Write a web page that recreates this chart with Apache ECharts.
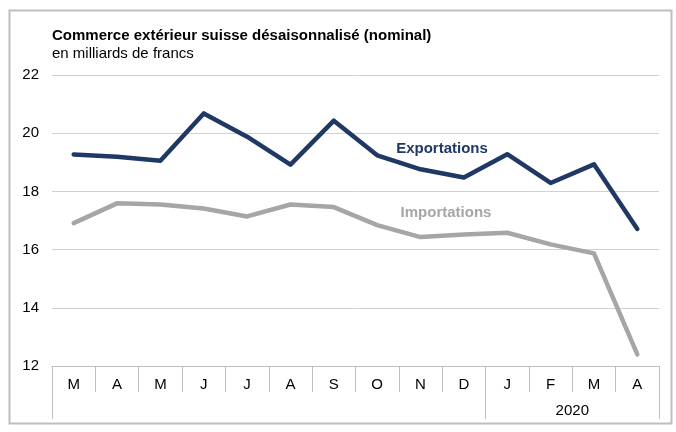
<!DOCTYPE html>
<html><head><meta charset="utf-8">
<script src="https://cdn.jsdelivr.net/npm/echarts@6/dist/echarts.min.js"></script>
<style>html,body{margin:0;padding:0;background:#fff}#c{width:676px;height:432px}</style>
</head><body><div id="c"></div>
<script>
const months = ['M','A','M','J','J','A','S','O','N','D','J','F','M','A'];
const exportations = [19.27,19.19,19.05,20.68,19.88,18.92,20.43,19.24,18.76,18.48,19.28,18.29,18.93,16.71];
const importations = [16.91,17.59,17.55,17.41,17.14,17.55,17.46,16.84,16.43,16.52,16.58,16.18,15.87,12.40];
const yearBoundaries = [0, 10, 14];
const yearLabelPos = [12];
const yearLabels = ['2020'];
const seriesNames = ['Exportations','Importations'];

const FONT = '"Liberation Sans", Arial, sans-serif';
const FS = 15;
const chart = echarts.init(document.getElementById('c'));
chart.setOption({
  animation: false,
  backgroundColor: '#fff',
  textStyle: { fontFamily: FONT },
  title: {
    text: 'Commerce extérieur suisse désaisonnalisé (nominal)',
    subtext: 'en milliards de francs',
    left: 52, top: 27, padding: 0, itemGap: 1,
    textStyle: { fontSize: FS, fontWeight: 'bold', color: '#000', lineHeight: 17, fontFamily: FONT },
    subtextStyle: { fontSize: FS, color: '#000', lineHeight: 17, fontFamily: FONT }
  },
  grid: { left: 52, right: 17, top: 75, bottom: 66 },
  xAxis: [{
    type: 'category', data: months, boundaryGap: true, position: 'bottom',
    axisLine: { show: true, lineStyle: { color: '#BFBFBF', width: 1 } },
    axisTick: { show: true, interval: 0, length: 26, lineStyle: { color: '#BFBFBF' } },
    axisLabel: { interval: 0, margin: 11, fontSize: FS, color: '#000', fontFamily: FONT },
    splitLine: { show: false }
  }, {
    type: 'value', min: 0, max: 14, position: 'bottom', offset: 0,
    axisLine: { show: false },
    axisTick: { show: true, customValues: yearBoundaries, length: 53, lineStyle: { color: '#BFBFBF' } },
    axisLabel: { show: true, customValues: yearLabelPos, formatter: () => yearLabels[0], margin: 37, fontSize: FS, color: '#000', fontFamily: FONT },
    splitLine: { show: false }
  }],
  yAxis: {
    type: 'value', min: 12, max: 22, interval: 2,
    axisLine: { show: false }, axisTick: { show: false },
    axisLabel: { margin: 13, fontSize: FS, color: '#000', fontFamily: FONT, padding: [3, 0, 0, 0] },
    splitLine: { show: true, lineStyle: { color: '#D0D0D0', width: 1 } }
  },
  series: [{
    name: seriesNames[0], type: 'line', data: exportations, xAxisIndex: 0,
    symbol: 'none', lineStyle: { color: '#1F3864', width: 4.5, join: 'round', cap: 'round' }, z: 3
  }, {
    name: seriesNames[1], type: 'line', data: importations, xAxisIndex: 0,
    symbol: 'none', lineStyle: { color: '#A6A6A6', width: 4.5, join: 'round', cap: 'round' }, z: 2
  }],
  graphic: [{
    type: 'rect', shape: { x: 9.5, y: 10.5, width: 662, height: 413 },
    style: { fill: 'none', stroke: '#BFBFBF', lineWidth: 2 }, silent: true
  }, {
    type: 'text', x: 442, y: 149,
    style: { text: seriesNames[0], fill: '#1F3864', font: 'bold 15px ' + FONT, textAlign: 'center', textVerticalAlign: 'middle' }
  }, {
    type: 'text', x: 446, y: 213,
    style: { text: seriesNames[1], fill: '#A6A6A6', font: 'bold 15px ' + FONT, textAlign: 'center', textVerticalAlign: 'middle' }
  }]
});
</script></body></html>
